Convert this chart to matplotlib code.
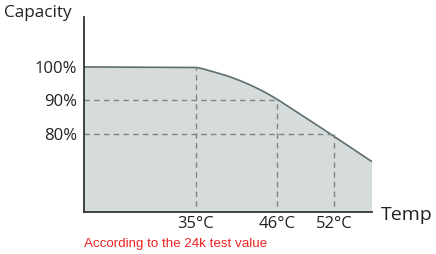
import numpy as np
import matplotlib
matplotlib.use("Agg")
import matplotlib.pyplot as plt

# curve (temperature in degC, capacity in %)
temps = [20, 35, 37.3, 39.6, 41.9, 44.1, 46, 47.4, 49.5, 51.6, 53.7, 55.8, 56]
capacity = [100, 100, 98.6, 97.1, 95.1, 92.8, 90.4, 87.8, 84.0, 80.0, 76.1, 72.0, 71.8]

mark_temps = [35, 46, 52]
mark_caps = [100, 90, 80]
ytick_vals = [100, 90, 80]
ytick_labels = ["100%", "90%", "80%"]
xtick_labels = ["35°C", "46°C", "52°C"]

# x spacing in the original is not linear in temperature
scale_t = [20, 35, 46, 52, 56]
scale_px = [0, 112, 193, 250, 288]

def fwd(x):
    return np.interp(x, scale_t, scale_px, left=-1e3, right=1e3)

def inv(x):
    return np.interp(x, scale_px, scale_t)

plt.rcParams['font.family'] = ['Open Sans', 'DejaVu Sans']

fig = plt.figure(figsize=(4.36, 2.54), dpi=100)
ax = fig.add_axes([84/436, 1-212/254, (372-84)/436, (212-17)/254])
ax.set_xscale('function', functions=(fwd, inv))

# smooth the outline in screen space so the scale breaks make no kinks
p = fwd(np.array(temps, dtype=float))
pp = np.linspace(p[1], p[-1], 300)
cc = np.interp(pp, p, capacity)
n = 12
left = np.full(n, 100.0)
slope = (cc[-1] - cc[-20]) / 19
right = cc[-1] + slope * np.arange(1, n + 1)
k = np.ones(2 * n + 1) / (2 * n + 1)
cc_s = np.convolve(np.concatenate([left, cc, right]), k, mode='valid')
cc_s = np.minimum(cc_s, 100)
tt = np.concatenate([[temps[0]], inv(pp)])
cc_s = np.concatenate([[100], cc_s])

line_c = '#5e6e6e'
ax.fill_between(tt, cc_s, 0, color='#d6dcdc', lw=0)
ax.plot(tt, cc_s, color=line_c, lw=1.2)

dash = dict(color='#7f8585', lw=1.0, dashes=(4, 3))
for t, c in zip(mark_temps, mark_caps):
    ax.plot([t, t], [0, c], **dash)
    if c < 100:
        ax.plot([temps[0], t], [c, c], **dash)

ax.set_xlim(20, 56)
ax.set_ylim(56.7, 114.9)

for s in ['top', 'right']:
    ax.spines[s].set_visible(False)
for s in ['left', 'bottom']:
    ax.spines[s].set_color('#333333')
    ax.spines[s].set_linewidth(1.3)

ax.set_yticks(ytick_vals)
ax.set_yticklabels(ytick_labels)
ax.set_xticks(mark_temps)
ax.set_xticklabels(xtick_labels)
ax.tick_params(axis='y', length=0, pad=5, labelsize=12, colors='#222222')
ax.tick_params(axis='x', length=0, pad=3, labelsize=12, colors='#222222')

fig.text(4/436, 1-13/254, "Capacity", fontsize=12.3, color='#222222', va='center', ha='left')
fig.text(381/436, 1-215/254, "Temp", fontsize=14, color='#222222', va='center', ha='left')
fig.text(84/436, 1-244/254, "According to the 24k test value", fontsize=9.6,
         color='#ee2222', va='center', ha='left', family=['Liberation Sans', 'DejaVu Sans'])

fig.savefig("out.png", dpi=100)
